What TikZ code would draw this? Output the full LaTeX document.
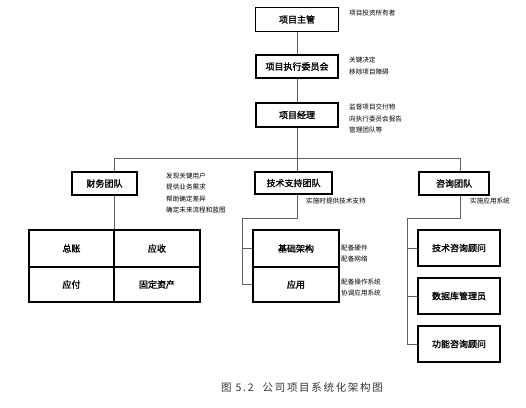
\documentclass[tikz,border=0pt]{standalone}
\usepackage{fontspec}
\newfontfamily\cjk{Noto Sans CJK SC}
\newfontfamily\cjkb[FakeBold=1.6]{Noto Sans CJK SC}
\newfontfamily\cjkcap[LetterSpace=16]{Noto Sans CJK SC}
\tikzset{
  box/.style={draw, line width=1.2pt, font=\cjkb\fontsize{9}{10}\selectfont, inner sep=0pt},
  note/.style={anchor=north west, font=\cjk\fontsize{6.6}{11.4}\selectfont, inner sep=0pt, align=left},
  conn/.style={draw=gray!75!black, line width=0.6pt}
}
\begin{document}
\begin{tikzpicture}[x=1pt,y=-1pt]
\useasboundingbox (0,0) rectangle (526,407);
% main chain
\node[box, minimum width=83pt, minimum height=24pt] (top) at (297,19.5) {项目主管};
\node[box, minimum width=82pt, minimum height=23pt] (exec) at (297,66.5) {项目执行委员会};
\node[box, minimum width=82pt, minimum height=24pt] (pm) at (297,115) {项目经理};
\node[note] (ntop) at (349,10) {项目投资所有者};
\node[note] (nexec) at (349,57) {关键决定\\移除项目障碍};
\node[note] (npm) at (349,104) {监督项目交付物\\向执行委员会报告\\管理团队等};
% teams
\node[box, minimum width=65pt, minimum height=23pt] (fin) at (104.5,183.5) {财务团队};
\node[box, minimum width=77pt, minimum height=22pt] (tech) at (293.5,183) {技术支持团队};
\node[box, minimum width=70pt, minimum height=23pt] (cons) at (454,183.5) {咨询团队};
\node[note] (nfin) at (166,172.5) {发现关键用户\\提供业务需求\\帮助确定差异\\确定未来流程和蓝图};
\node[note] (ntech) at (306,197.5) {实施时提供技术支持};
\node[note] (ncons) at (470,197.5) {实施应用系统};
% finance grid
\node[box, minimum width=85pt, minimum height=37pt] (gl) at (71.5,248.5) {总账};
\node[box, minimum width=86pt, minimum height=37pt] (ar) at (157,248.5) {应收};
\node[box, minimum width=85pt, minimum height=35pt] (ap) at (71.5,284.5) {应付};
\node[box, minimum width=86pt, minimum height=35pt] (fa) at (157,284.5) {固定资产};
% tech sub boxes
\node[box, minimum width=86pt, minimum height=37pt] (infra) at (296,248.5) {基础架构};
\node[box, minimum width=86pt, minimum height=35pt] (app) at (296,284.5) {应用};
\node[note] (ninfra) at (341,244.5) {配备硬件\\配备网络};
\node[note] (napp) at (341,278.5) {配备操作系统\\协调应用系统};
% consult sub boxes
\node[box, minimum width=82pt, minimum height=36pt] (tc) at (459,248) {技术咨询顾问};
\node[box, minimum width=82pt, minimum height=36pt] (dba) at (459,296) {数据库管理员};
\node[box, minimum width=82pt, minimum height=36pt] (fc) at (459,344) {功能咨询顾问};
% coordinates
\coordinate (hj) at (297,158);
\coordinate (hl) at (114,158);
\coordinate (hr) at (460,158);
\coordinate (tj) at (297,218);
\coordinate (tl) at (242,218);
\coordinate (cj) at (460,218);
\coordinate (cl) at (407,218);
% connectors
\draw[conn] (top) -- (exec);
\draw[conn] (exec) -- (pm);
\draw[conn] (pm) -- (hj);
\draw[conn] (hl) -- (hr);
\draw[conn] (hl) -- (hl |- fin.north);
\draw[conn] (hj) -- (hj |- tech.north);
\draw[conn] (hr) -- (hr |- cons.north);
\draw[conn] (hl |- fin.south) -- (hl |- gl.north);
\draw[conn] (tj |- tech.south) -- (tj) -- (tl) |- (app.west);
\draw[conn] (tl |- infra.west) -- (infra.west);
\draw[conn] (cj |- cons.south) -- (cj) -- (cl) |- (fc.west);
\draw[conn] (cl |- tc.west) -- (tc.west);
\draw[conn] (cl |- dba.west) -- (dba.west);
% caption
\node[font=\cjkcap\fontsize{10.5}{12}\selectfont, text=black!80, inner sep=0pt] (cap) at (302,387) {图 5.2\hspace{9pt}公司项目系统化架构图};
\end{tikzpicture}
\end{document}
